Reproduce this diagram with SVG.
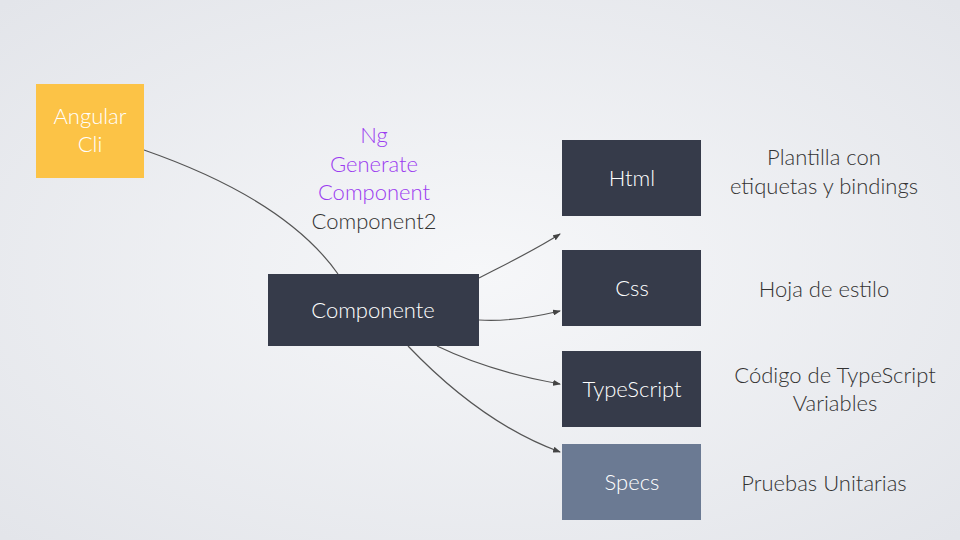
<svg xmlns="http://www.w3.org/2000/svg" width="960" height="540" viewBox="0 0 960 540">
<defs>
<radialGradient id="bg" cx="50%" cy="50%" r="70%"><stop offset="0" stop-color="#f6f7f9"/><stop offset="1" stop-color="#e3e5ea"/></radialGradient>
<marker id="ah" markerWidth="8" markerHeight="6" refX="7" refY="3" orient="auto" markerUnits="userSpaceOnUse"><path d="M0,0 L8,3 L0,6 z" fill="#444"/></marker>
<style>
.t{font-family:Lato,"Open Sans",sans-serif;font-weight:300;font-size:22px;text-anchor:middle}
.w{fill:#fff}.k{fill:#333}.p{fill:#9b3cf0}
.d{fill:#363b4a}
.c{fill:none;stroke:#555;stroke-width:1.2}
</style>
</defs>
<rect width="960" height="540" fill="url(#bg)"/>
<g id="connectors">
<path class="c" d="M144,150 C230,180 300,220 338,274"/>
<path class="c" d="M479,278 C510,262 535,250 560,234" marker-end="url(#ah)"/>
<path class="c" d="M479,320 C505,322 530,318 560,311" marker-end="url(#ah)"/>
<path class="c" d="M437,346 C470,362 510,375 560,384" marker-end="url(#ah)"/>
<path class="c" d="M408,346 C450,390 500,430 560,452" marker-end="url(#ah)"/>
</g>
<g id="angular"><rect x="36" y="84" width="108" height="94" fill="#fcc346"/><text class="t w" x="90" y="124">Angular</text><text class="t w" x="90" y="152">Cli</text></g>
<g id="label"><text class="t p" x="374" y="143">Ng</text><text class="t p" x="374" y="172">Generate</text><text class="t p" x="374" y="200">Component</text><text class="t k" x="374" y="229">Component2</text></g>
<g id="componente"><rect class="d" x="268" y="274" width="211" height="72"/><text class="t w" x="373" y="318">Componente</text></g>
<g id="html"><rect class="d" x="562" y="140" width="139" height="76"/><text class="t w" x="632" y="186">Html</text></g>
<g id="css"><rect class="d" x="562" y="250" width="139" height="76"/><text class="t w" x="632" y="296">Css</text></g>
<g id="ts"><rect class="d" x="562" y="351" width="139" height="76"/><text class="t w" x="632" y="397">TypeScript</text></g>
<g id="specs"><rect x="562" y="444" width="139" height="76" fill="#6b7a93"/><text class="t w" x="632" y="490">Specs</text></g>
<g id="notes">
<text class="t k" x="824" y="165">Plantilla con</text><text class="t k" x="824" y="194">etiquetas y bindings</text>
<text class="t k" x="824" y="297">Hoja de estilo</text>
<text class="t k" x="835" y="383">Código de TypeScript</text><text class="t k" x="835" y="411">Variables</text>
<text class="t k" x="824" y="491">Pruebas Unitarias</text>
</g>
</svg>
